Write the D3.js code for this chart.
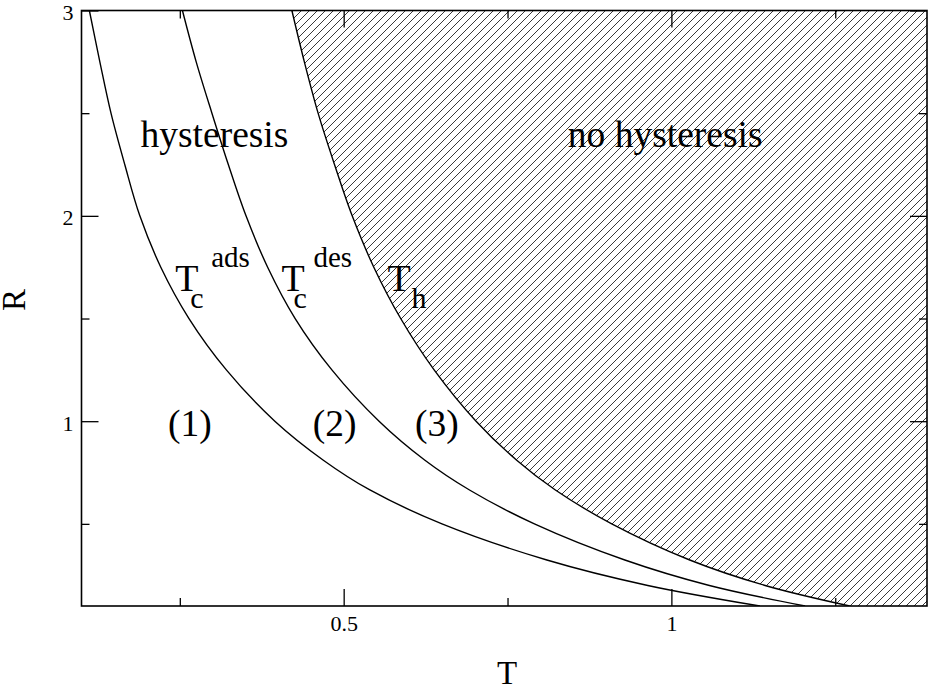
<!DOCTYPE html>
<html>
<head>
<meta charset="utf-8">
<script src="https://cdn.jsdelivr.net/npm/d3@7"></script>
<style>
  body { margin: 0; background: #fff; }
  text { font-family: "Liberation Serif", "DejaVu Serif", serif; fill: #000; }
  .axis .domain { display: none; }
  .axis line { stroke: #000; stroke-width: 1.3; }
</style>
</head>
<body>
<div id="app"></div>
<script>
const W = 935, H = 688

// R values shared by the three boundary curves
const rVals = [3.0, 2.75, 2.5, 2.25, 2.0, 1.75, 1.5, 1.25, 1.0, 0.81, 0.665, 0.5, 0.324, 0.2, 0.1]
// T along each curve
const tcAds = [0.112, 0.128, 0.145, 0.166, 0.189, 0.221, 0.264, 0.321, 0.395, 0.469, 0.540, 0.650, 0.810, 0.964, 1.135]
const tcDes = [0.254, 0.275, 0.299, 0.324, 0.351, 0.384, 0.426, 0.482, 0.554, 0.624, 0.692, 0.791, 0.929, 1.058, 1.204]
const tH    = [0.421, 0.440, 0.461, 0.486, 0.513, 0.546, 0.587, 0.638, 0.702, 0.764, 0.823, 0.909, 1.028, 1.143, 1.272]

const xMajor = [0.5, 1]
const xMinor = [0.25, 0.75, 1.25]
const yMajor = [1, 2, 3]
const yMinor = [0.5, 1.5, 2.5]

const x = d3.scaleLinear().domain([0.1, 1.39]).range([81.5, 927])
const y = d3.scaleLinear().domain([0.1, 3]).range([606, 10.5])

const svg = d3.select('#app').append('svg')
  .attr('width', W)
  .attr('height', H)

const defs = svg.append('defs')
defs.append('clipPath').attr('id', 'plot')
  .append('rect')
  .attr('x', x.range()[0]).attr('y', y.range()[1])
  .attr('width', x.range()[1] - x.range()[0])
  .attr('height', y.range()[0] - y.range()[1])

defs.append('pattern')
  .attr('id', 'hatch')
  .attr('patternUnits', 'userSpaceOnUse')
  .attr('width', 8).attr('height', 8)
  .append('path')
  .attr('d', 'M-2,2 l4,-4 M0,8 l8,-8 M6,10 l4,-4')
  .attr('stroke', '#222')
  .attr('stroke-width', 0.9)

const curves = [tcAds, tcDes, tH].map(ts => ts.map((t, i) => ({ T: t, R: rVals[i] })))

const g = svg.append('g').attr('clip-path', 'url(#plot)')

// hatched "no hysteresis" region right of T_h
g.append('path')
  .datum(curves[2])
  .attr('fill', 'url(#hatch)')
  .attr('d', d3.area()
    .curve(d3.curveCatmullRom)
    .y(d => y(d.R))
    .x0(d => x(d.T))
    .x1(x.range()[1]))

const line = d3.line()
  .curve(d3.curveCatmullRom)
  .x(d => x(d.T))
  .y(d => y(d.R))

g.selectAll('.curve')
  .data(curves)
  .enter().append('path')
  .attr('class', 'curve')
  .attr('fill', 'none')
  .attr('stroke', '#000')
  .attr('stroke-width', 1.4)
  .attr('d', line)

// axes, ticks pointing inwards on all sides
const yBot = y.range()[0], yTop = y.range()[1]
const xLeft = x.range()[0], xRight = x.range()[1]

function addAxis(axis, tr, vals, size, labels) {
  axis.tickValues(vals).tickSizeInner(size).tickSizeOuter(0)
  if (!labels) axis.tickFormat('')
  return svg.append('g').attr('class', 'axis').attr('transform', tr).call(axis)
}

addAxis(d3.axisBottom(x).tickPadding(9).tickFormat(d3.format('')), `translate(0,${yBot})`, xMajor, -17, true)
addAxis(d3.axisBottom(x), `translate(0,${yBot})`, xMinor, -8, false)
addAxis(d3.axisTop(x), `translate(0,${yTop})`, xMajor, -17, false)
addAxis(d3.axisTop(x), `translate(0,${yTop})`, xMinor, -8, false)
const yl = addAxis(d3.axisLeft(y).tickPadding(8).tickFormat(d3.format('')), `translate(${xLeft},0)`, yMajor, -17, true)
addAxis(d3.axisLeft(y), `translate(${xLeft},0)`, yMinor, -8, false)
addAxis(d3.axisRight(y), `translate(${xRight},0)`, yMajor, -17, false)
addAxis(d3.axisRight(y), `translate(${xRight},0)`, yMinor, -8, false)

svg.selectAll('.axis text')
  .style('font-family', '"Liberation Serif", serif')
  .style('font-size', '22px')
yl.selectAll('text').attr('dy', '0.41em')

svg.append('rect')
  .attr('x', xLeft).attr('y', yTop)
  .attr('width', xRight - xLeft).attr('height', yBot - yTop)
  .attr('fill', 'none')
  .attr('stroke', '#000')
  .attr('stroke-width', 1.6)

// axis titles
svg.append('text')
  .attr('x', 507).attr('y', 684)
  .attr('text-anchor', 'middle')
  .style('font-size', '33px')
  .text('T')

svg.append('text')
  .attr('transform', 'translate(25,300) rotate(-90)')
  .attr('text-anchor', 'middle')
  .style('font-size', '33px')
  .text('R')

// region labels
const regionLabels = [
  { text: 'hysteresis', T: 0.190, R: 2.336 },
  { text: 'no hysteresis', T: 0.842, R: 2.336 },
  { text: '(1)', T: 0.232, R: 0.928 },
  { text: '(2)', T: 0.453, R: 0.928 },
  { text: '(3)', T: 0.609, R: 0.928 }
]
svg.selectAll('.region')
  .data(regionLabels)
  .enter().append('text')
  .attr('class', 'region')
  .attr('x', d => x(d.T))
  .attr('y', d => y(d.R))
  .style('font-size', '37.5px')
  .text(d => d.text)

// curve labels: T with subscript / superscript
const curveLabels = [
  { T: 0.243, R: 1.634, sub: 'c', sup: 'ads', subDx: 15, supDx: 36 },
  { T: 0.405, R: 1.634, sub: 'c', sup: 'des', subDx: 12, supDx: 32 },
  { T: 0.567, R: 1.634, sub: 'h', sup: '', subDx: 24, supDx: 0 }
]
const cl = svg.selectAll('.clabel')
  .data(curveLabels)
  .enter().append('g')
  .attr('class', 'clabel')
  .attr('transform', d => `translate(${x(d.T)},${y(d.R)})`)

cl.append('text').style('font-size', '38px').text('T')
cl.append('text').attr('x', d => d.subDx).attr('y', 17).style('font-size', '30px').text(d => d.sub)
cl.append('text').attr('x', d => d.supDx).attr('y', -24).style('font-size', '29px').text(d => d.sup)
</script>
</body>
</html>
